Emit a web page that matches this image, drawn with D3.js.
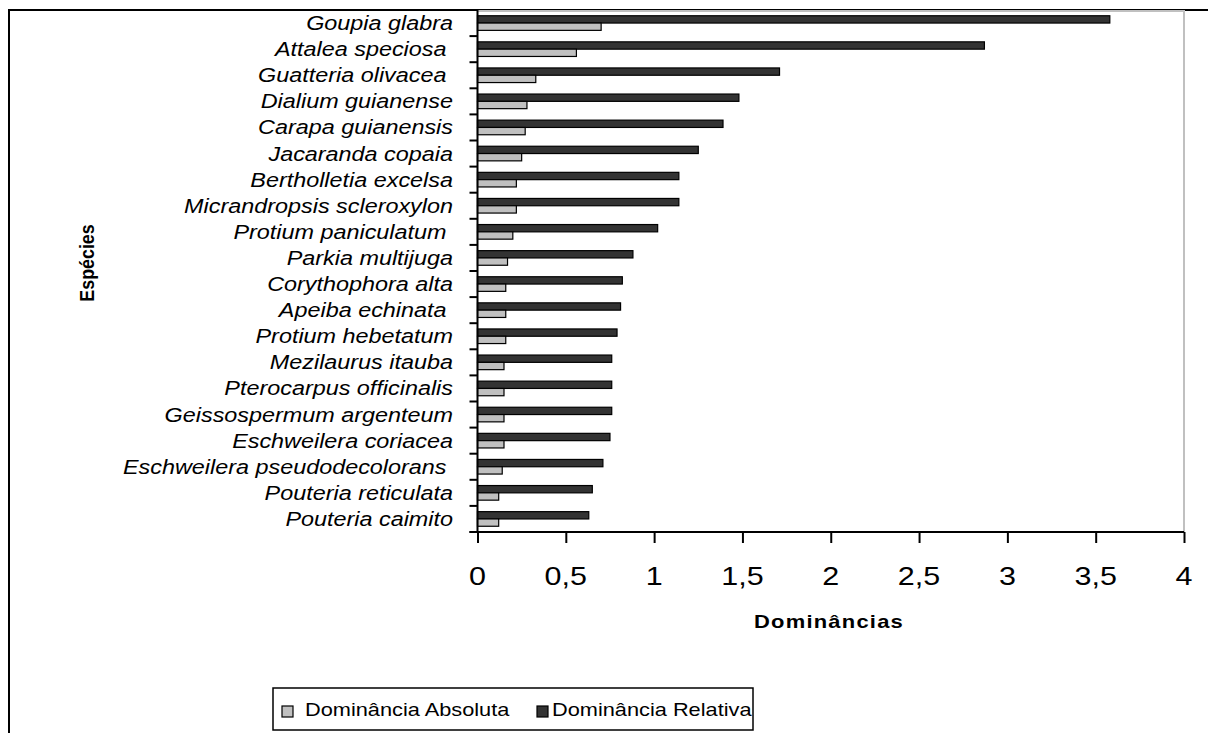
<!DOCTYPE html>
<html>
<head>
<meta charset="utf-8">
<script src="https://cdn.jsdelivr.net/npm/d3@7"></script>
<style>
  html, body { margin: 0; padding: 0; background: #fff; }
  svg { display: block; font-family: "Liberation Sans", Arial, sans-serif; }
</style>
</head>
<body>
<svg id="chart" width="1208" height="733"></svg>
<script>
// Species (top to bottom); trailing spaces kept as in the source labels
const species = [
  "Goupia glabra", "Attalea speciosa ", "Guatteria olivacea ", "Dialium guianense",
  "Carapa guianensis", "Jacaranda copaia", "Bertholletia excelsa", "Micrandropsis scleroxylon",
  "Protium paniculatum ", "Parkia multijuga", "Corythophora alta", "Apeiba echinata ",
  "Protium hebetatum", "Mezilaurus itauba", "Pterocarpus officinalis", "Geissospermum argenteum",
  "Eschweilera coriacea", "Eschweilera pseudodecolorans ", "Pouteria reticulata", "Pouteria caimito"
];
const dominanciaRelativa = [3.58, 2.87, 1.71, 1.48, 1.39, 1.25, 1.14, 1.14, 1.02, 0.88,
                            0.82, 0.81, 0.79, 0.76, 0.76, 0.76, 0.75, 0.71, 0.65, 0.63];
const dominanciaAbsoluta = [0.70, 0.56, 0.33, 0.28, 0.27, 0.25, 0.22, 0.22, 0.20, 0.17,
                            0.16, 0.16, 0.16, 0.15, 0.15, 0.15, 0.15, 0.14, 0.12, 0.12];
const xTicks = [0, 0.5, 1, 1.5, 2, 2.5, 3, 3.5, 4];
const seriesNames = ["Dominância Absoluta", "Dominância Relativa"];
const seriesColors = { "Dominância Absoluta": "#c0c0c0", "Dominância Relativa": "#333333" };

const svg = d3.select("#chart");
const SX = 1.22; // horizontal text stretch

function stretchedText(g, x, y, str, opts) {
  const t = g.append("text")
    .attr("transform", `translate(${x},${y}) scale(${opts.sx || SX},1)`)
    .attr("text-anchor", opts.anchor || "start")
    .attr("font-size", opts.size)
    .attr("font-weight", opts.weight || "normal")
    .attr("font-style", opts.style || "normal")
    .attr("fill", "#000")
    .attr("xml:space", "preserve")
    .text(str);
  if (opts.ls) t.attr("letter-spacing", opts.ls);
  return t;
}

// outer chart frame
svg.append("rect").attr("x", 9).attr("y", 10).attr("width", 1400).attr("height", 900)
  .attr("fill", "none").attr("stroke", "#000").attr("stroke-width", 2);

const plotLeft = 477.5, plotRight = 1184, plotTop = 11, plotBottom = 532;

const x = d3.scaleLinear().domain([0, 4]).range([plotLeft, plotRight]);
const y = d3.scaleBand().domain(species).range([plotTop - 1, plotBottom])
  .paddingInner(0.44).paddingOuter(0.22);
const ySub = d3.scaleBand().domain(["Dominância Relativa", "Dominância Absoluta"])
  .range([0, y.bandwidth()]);

// plot area border (gray)
svg.append("path")
  .attr("d", `M${plotLeft},${plotTop}H${plotRight}V${plotBottom}`)
  .attr("fill", "none").attr("stroke", "#c0c0c0").attr("stroke-width", 2);

// bars
const rows = species.map((s, i) => ({
  s, vals: [
    { k: "Dominância Relativa", v: dominanciaRelativa[i] },
    { k: "Dominância Absoluta", v: dominanciaAbsoluta[i] }
  ]
}));
const gRow = svg.append("g").selectAll("g").data(rows).join("g")
  .attr("transform", d => `translate(0,${y(d.s)})`);
gRow.selectAll("rect").data(d => d.vals).join("rect")
  .attr("x", x(0))
  .attr("y", d => ySub(d.k))
  .attr("width", d => x(d.v) - x(0))
  .attr("height", ySub.bandwidth())
  .attr("fill", d => seriesColors[d.k])
  .attr("stroke", "#000").attr("stroke-width", 1.2);

// category axis: ticks at band boundaries
const boundaries = species.map(s => y(s) - y.step() * y.paddingInner() / 2)
  .concat([y(species[species.length - 1]) + y.bandwidth() + y.step() * y.paddingInner() / 2]);
const gY = svg.append("g");
gY.selectAll("line.tk").data(boundaries).join("line")
  .attr("x1", plotLeft - 8).attr("x2", plotLeft).attr("y1", d => d).attr("y2", d => d)
  .attr("stroke", "#000").attr("stroke-width", 2);
gY.append("line").attr("x1", plotLeft).attr("x2", plotLeft)
  .attr("y1", plotTop - 1).attr("y2", plotBottom + 1)
  .attr("stroke", "#000").attr("stroke-width", 2);
species.forEach(s => {
  stretchedText(gY, 453, y(s) + y.bandwidth() / 2 + 7, s,
    { anchor: "end", size: 19.5, style: "italic", sx: 1.2 });
});

// value axis
const gX = svg.append("g").attr("transform", `translate(0,${plotBottom})`)
  .call(d3.axisBottom(x).tickValues(xTicks).tickSize(11).tickFormat(() => ""));
gX.select(".domain").attr("stroke", "#000").attr("stroke-width", 2)
  .attr("d", `M${plotLeft - 8},0H${plotRight}`);
gX.selectAll(".tick line").attr("stroke", "#000").attr("stroke-width", 2);
const fmt = v => String(v).replace(".", ",");
xTicks.forEach(v => {
  stretchedText(svg, x(v), 585, fmt(v), { anchor: "middle", size: 25 });
});

// axis titles
stretchedText(svg, 829, 628, "Dominâncias", { anchor: "middle", size: 18, weight: "bold", ls: 1 });
svg.append("text")
  .attr("transform", "translate(94,263) rotate(-90) scale(1.05,1.15)")
  .attr("text-anchor", "middle").attr("font-size", 17).attr("font-weight", "bold")
  .text("Espécies");

// legend
const lg = svg.append("g");
lg.append("rect").attr("x", 273).attr("y", 688).attr("width", 480).attr("height", 42)
  .attr("fill", "#fff").attr("stroke", "#000").attr("stroke-width", 1.5);
const legendMarkX = [282, 537];
const legendTextX = [305, 552];
seriesNames.forEach((n, i) => {
  lg.append("rect").attr("x", legendMarkX[i]).attr("y", 706).attr("width", 11).attr("height", 11)
    .attr("fill", seriesColors[n]).attr("stroke", "#000").attr("stroke-width", 1.2);
  stretchedText(lg, legendTextX[i], 716, n, { size: 18.6, sx: 1.17 });
});
</script>
</body>
</html>
